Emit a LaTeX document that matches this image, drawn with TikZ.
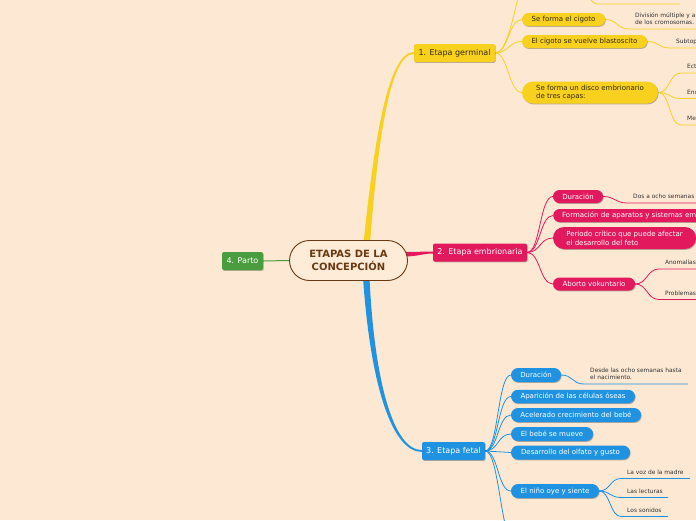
\documentclass[tikz,border=0pt]{standalone}
\usepackage{fontspec}
\setmainfont{DejaVu Sans}
\usetikzlibrary{shadows,backgrounds,calc}
\definecolor{bgc}{HTML}{FDE8D3}
\definecolor{cfill}{HTML}{FEEBD8}
\definecolor{ycol}{HTML}{F8D11F}
\definecolor{pcol}{HTML}{E3195E}
\definecolor{bcol}{HTML}{1F93E2}
\definecolor{gcol}{HTML}{4A9D3E}
\definecolor{brownc}{HTML}{6A3A12}
\definecolor{ink}{HTML}{333333}
\definecolor{ytext}{HTML}{33290A}
\tikzset{
  shad/.style={drop shadow={shadow xshift=0.7pt,shadow yshift=-0.9pt,opacity=0.28,fill=black}},
  central/.style={rectangle, rounded corners=20pt, draw=brownc, line width=0.9pt, fill=cfill,
    minimum width=118pt, minimum height=40pt, inner sep=0pt, align=center,
    text=brownc, font=\fontsize{10}{12.8}\selectfont\bfseries},
  mainbox/.style={rectangle, rounded corners=2pt, inner sep=0pt, minimum height=18pt,
    font=\fontsize{8}{9.5}\selectfont, shad},
  pill/.style={rectangle, rounded corners=6.5pt, inner sep=0pt, minimum height=13pt,
    align=left, font=\fontsize{7}{8.6}\selectfont, shad},
  ysub/.style={pill, fill=ycol, text=ytext},
  psub/.style={pill, fill=pcol, text=white},
  bsub/.style={pill, fill=bcol, text=white, minimum height=14pt, rounded corners=7pt},
  leaf/.style={anchor=south west, inner xsep=6pt, inner ysep=3pt, text depth=1.2pt,
    align=left, text=ink, font=\fontsize{5.9}{7.6}\selectfont},
  ylink/.style={draw=ycol, line width=0.8pt},
  plink/.style={draw=pcol, line width=0.8pt},
  blink/.style={draw=bcol, line width=0.8pt},
}
\begin{document}
\begin{tikzpicture}[x=1pt,y=-1pt]
\useasboundingbox (0,0) rectangle (696,520);

% ---------- nodes ----------
\node[central] (c) at (348.5,260.5) {ETAPAS DE LA\\CONCEPCIÓN};
\node[mainbox, fill=gcol, text=white, minimum width=41pt] (parto) at (242.5,261) {4. Parto};
\node[mainbox, fill=ycol, text=ytext, minimum width=81pt] (g) at (454.5,53) {1. Etapa germinal};
\node[mainbox, fill=pcol, text=white, minimum width=94pt] (e) at (480,252.5) {2. Etapa embrionaria};
\node[mainbox, fill=bcol, text=white, minimum width=63pt] (f) at (453.5,451) {3. Etapa fetal};

% yellow branch
\node[ysub, minimum width=83pt] (y1) at (563.5,19.5) {Se forma el cigoto};
\node[ysub, minimum width=125pt] (y2) at (584.5,41.5) {El cigoto se vuelve blastoscito};
\node[ysub, minimum width=136pt, minimum height=22pt, rounded corners=11pt] (y3) at (590,92.5) {Se forma un disco embrionario\\de tres capas:};
\coordinate (ytop) at (521,-14);
\coordinate (ytopr) at (582,-6);
\coordinate (ytopl) at (598,4);

\node[leaf] (ly1) at (629,29) {División múltiple y a\\de los cromosomas.};
\node[leaf] (ly2) at (670,48) {Subtop};
\node[leaf] (ly3) at (681,73) {Ect};
\node[leaf] (ly4) at (681,98.5) {Enc};
\node[leaf] (ly5) at (681,125) {Mes};

% pink branch
\node[psub, minimum width=50pt] (p1) at (578,196.5) {Duración};
\node[psub, anchor=west, text width=190pt, inner xsep=9pt] (p2) at (553,215.5) {Formación de aparatos y sistemas em};
\node[psub, minimum width=143pt, minimum height=22pt, rounded corners=11pt] (p3) at (624.5,238) {Periodo crítico que puede afectar\\el desarrollo del feto};
\node[psub, minimum width=82pt] (p4) at (594,284) {Aborto vokuntario};

\node[leaf] (lp1) at (627,203) {Dos a ocho semanas};
\node[leaf] (lp2) at (659,269) {Anomalías};
\node[leaf] (lp3) at (659,299.5) {Problemas};

% blue branch
\node[bsub, minimum width=50pt] (b1) at (536,375) {Duración};
\node[bsub, minimum width=124pt, minimum height=13.5pt] (b2) at (573,396.5) {Aparición de las células óseas};
\node[bsub, minimum width=130pt] (b3) at (576,415) {Acelerado crecimiento del bebé};
\node[bsub, minimum width=82pt] (b4) at (552,434) {El bebé se mueve};
\node[bsub, minimum width=119pt] (b5) at (570.5,452.5) {Desarrollo del olfato y gusto};
\node[bsub, minimum width=88pt] (b6) at (555,491) {El niño oye y siente};
\coordinate (boff) at (512,545);

\node[leaf] (lb1) at (584,384) {Desde las ocho semanas hasta\\el nacimiento.};
\node[leaf] (lb2) at (621,478.5) {La voz de la madre};
\node[leaf] (lb3) at (621,497.5) {Las lecturas};
\node[leaf] (lb4) at (621,516.5) {Los sonidos};

% ---------- connectors ----------
\begin{pgfonlayer}{background}
\fill[bgc] (0,0) rectangle (696,520);

% main tapered links
\fill[ycol] ([xshift=15pt,yshift=-3pt]c.north) .. controls ([xshift=25pt,yshift=92pt]c.north) and ([xshift=-27pt,yshift=0.9pt]g.west) .. ([yshift=0.9pt]g.west)
  -- ([yshift=-0.9pt]g.west) .. controls ([xshift=-25pt,yshift=-0.9pt]g.west) and ([xshift=29pt,yshift=92pt]c.north) .. ([xshift=21.5pt,yshift=-3pt]c.north) -- cycle;
\fill[bcol] ([xshift=14.5pt,yshift=3pt]c.south) .. controls ([xshift=22pt,yshift=-104pt]c.south) and ([xshift=-30pt,yshift=-0.9pt]f.west) .. ([yshift=-0.9pt]f.west)
  -- ([yshift=0.9pt]f.west) .. controls ([xshift=-28pt,yshift=0.9pt]f.west) and ([xshift=26pt,yshift=-102pt]c.south) .. ([xshift=21pt,yshift=3pt]c.south) -- cycle;
\fill[pcol] ([xshift=-4pt,yshift=8.5pt]c.east) .. controls ([xshift=10pt,yshift=8.5pt]c.east) and ([xshift=-10pt,yshift=1pt]e.west) .. ([yshift=1pt]e.west)
  -- ([yshift=-1pt]e.west) .. controls ([xshift=-10pt,yshift=-1pt]e.west) and ([xshift=10pt,yshift=4pt]c.east) .. ([xshift=-4pt,yshift=4pt]c.east) -- cycle;
\draw[gcol, line width=1pt] (c.west) -- (parto.east);

% yellow sub links
\foreach \t in {y1,y2,y3}
  \draw[ylink] (g.east) .. controls +(13,0) and +(-13,0) .. (\t.west);
\draw[ylink] (g.east) .. controls +(13,0) and +(-6,20) .. (ytop);
\draw[ylink] (ytopr) .. controls +(8,0) and +(-8,0) .. (ytopl) -- ++(82,0);
\draw[ylink] (y1.east) .. controls +(12,0) and +(-12,0) .. (ly1.south west) -- ++(80,0);
\draw[ylink] (y2.east) .. controls +(12,0) and +(-12,0) .. (ly2.south west) -- ++(40,0);
\foreach \t in {ly3,ly4,ly5}
  \draw[ylink] (y3.east) .. controls +(12,0) and +(-12,0) .. (\t.south west) -- ++(30,0);

% pink sub links
\foreach \t in {p1,p2,p3,p4}
  \draw[plink] (e.east) .. controls +(13,0) and +(-13,0) .. (\t.west);
\draw[plink] (p1.east) .. controls +(12,0) and +(-12,0) .. (lp1.south west) -- ++(80,0);
\draw[plink] (p4.east) .. controls +(12,0) and +(-12,0) .. (lp2.south west) -- ++(50,0);
\draw[plink] (p4.east) .. controls +(12,0) and +(-12,0) .. (lp3.south west) -- ++(50,0);

% blue sub links
\foreach \t in {b1,b2,b3,b4,b5,b6}
  \draw[blink] (f.east) .. controls +(13,0) and +(-13,0) .. (\t.west);
\draw[blink] (f.east) .. controls +(13,0) and +(-12,-20) .. (boff);
\draw[blink] (b1.east) .. controls +(12,0) and +(-12,0) .. (lb1.south west) -- ++(104,0);
\draw[blink] (b6.east) .. controls +(11,0) and +(-11,0) .. (lb2.south west) -- ++(69,0);
\draw[blink] (b6.east) .. controls +(11,0) and +(-11,0) .. (lb3.south west) -- ++(47,0);
\draw[blink] (b6.east) .. controls +(11,0) and +(-11,0) .. (lb4.south west) -- ++(47,0);
\end{pgfonlayer}
\end{tikzpicture}
\end{document}
